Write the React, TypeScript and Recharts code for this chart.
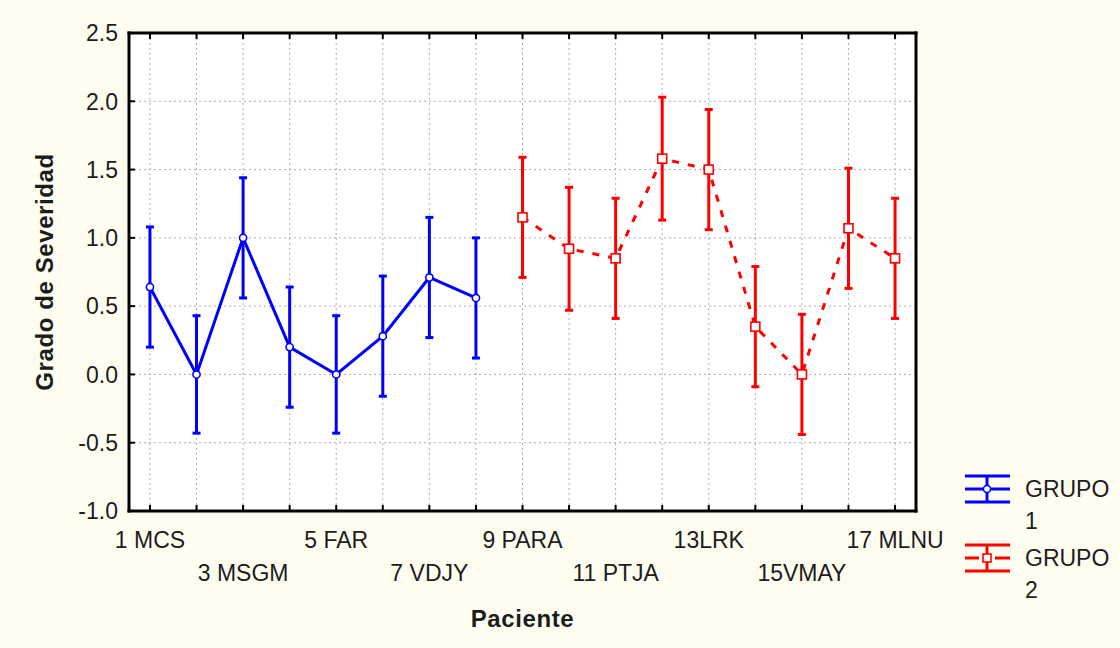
import React from 'react';
import { LineChart, Line, XAxis, YAxis, CartesianGrid, ErrorBar, Legend, Label } from 'recharts';

// ---- data ----
const patientIds = [1, 2, 3, 4, 5, 6, 7, 8, 9, 10, 11, 12, 13, 14, 15, 16, 17];
const patientLabels = ['1 MCS', '', '3 MSGM', '', '5 FAR', '', '7 VDJY', '', '9 PARA', '', '11 PTJA', '', '13LRK', '', '15VMAY', '', '17 MLNU'];
const grupo1Patients = [1, 2, 3, 4, 5, 6, 7, 8];
const grupo1Means = [0.64, 0.0, 1.0, 0.2, 0.0, 0.28, 0.71, 0.56];
const grupo1Errors = [0.44, 0.43, 0.44, 0.44, 0.43, 0.44, 0.44, 0.44];
const grupo2Patients = [9, 10, 11, 12, 13, 14, 15, 16, 17];
const grupo2Means = [1.15, 0.92, 0.85, 1.58, 1.5, 0.35, 0.0, 1.07, 0.85];
const grupo2Errors = [0.44, 0.45, 0.44, 0.45, 0.44, 0.44, 0.44, 0.44, 0.44];
const yTicks = [-1.0, -0.5, 0.0, 0.5, 1.0, 1.5, 2.0, 2.5];
const seriesNames = ['GRUPO 1', 'GRUPO 2'];
const xTitle = 'Paciente';
const yTitle = 'Grado de Severidad';

const data = patientIds.map((id) => {
  const i1 = grupo1Patients.indexOf(id);
  const i2 = grupo2Patients.indexOf(id);
  return {
    id,
    g1: i1 >= 0 ? grupo1Means[i1] : null,
    e1: i1 >= 0 ? grupo1Errors[i1] : null,
    g2: i2 >= 0 ? grupo2Means[i2] : null,
    e2: i2 >= 0 ? grupo2Errors[i2] : null,
  };
});

const BLUE = '#0000ff';
const RED = '#ff0000';
const BG = '#fffdf0';
const FONT = '"Liberation Sans", Arial, sans-serif';
const TEXT = '#1c1c1c';

const BottomTick = (props: any) => {
  const { x, y, payload } = props;
  const idx = patientIds.indexOf(payload.value);
  const label = patientLabels[idx] || '';
  const row = Math.floor(idx / 2) % 2;
  return (
    <g>
      <line x1={x} y1={y} x2={x} y2={y - 6} stroke="#000" strokeWidth={2} />
      {label ? (
        <text x={x} y={y + (row === 0 ? 37 : 70)} textAnchor="middle" fontFamily={FONT} fontSize={23} fill={TEXT}>
          {label}
        </text>
      ) : null}
    </g>
  );
};

const TopTick = (props: any) => {
  const { x, y } = props;
  return <line x1={x} y1={y} x2={x} y2={y + 6} stroke="#000" strokeWidth={2} />;
};

const LeftTick = (props: any) => {
  const { x, y, payload } = props;
  return (
    <g>
      <line x1={x} y1={y} x2={x + 6} y2={y} stroke="#000" strokeWidth={2} />
      <text x={x - 11} y={y} dy="0.36em" textAnchor="end" fontFamily={FONT} fontSize={23} fill={TEXT}>
        {Number(payload.value).toFixed(1)}
      </text>
    </g>
  );
};

const RightTick = (props: any) => {
  const { x, y } = props;
  return <line x1={x} y1={y} x2={x - 6} y2={y} stroke="#000" strokeWidth={2} />;
};

const CircleDot = (props: any) => {
  const { cx, cy, value } = props;
  if (value == null || cy == null || isNaN(cy)) return null;
  return <circle key={`c${cx}`} cx={cx} cy={cy} r={3.6} fill="#fff" stroke={BLUE} strokeWidth={1.6} />;
};

const SquareDot = (props: any) => {
  const { cx, cy, value } = props;
  if (value == null || cy == null || isNaN(cy)) return null;
  return <rect key={`s${cx}`} x={cx - 4.5} y={cy - 4.5} width={9} height={9} fill="#fff" stroke={RED} strokeWidth={1.6} />;
};

const LegendIcon = ({ color, square }: { color: string; square: boolean }) => (
  <svg width={46} height={34} style={{ display: 'block' }}>
    <line x1={0} y1={3} x2={45} y2={3} stroke={color} strokeWidth={3} />
    <line x1={0} y1={29} x2={45} y2={29} stroke={color} strokeWidth={3} />
    <line x1={22} y1={3} x2={22} y2={29} stroke={color} strokeWidth={3} />
    {square ? (
      <>
        <line x1={0} y1={16} x2={14} y2={16} stroke={color} strokeWidth={3} />
        <line x1={30} y1={16} x2={45} y2={16} stroke={color} strokeWidth={3} />
        <rect x={18} y={12} width={8} height={8} fill="#fff" stroke={color} strokeWidth={1.6} />
      </>
    ) : (
      <>
        <line x1={0} y1={16} x2={45} y2={16} stroke={color} strokeWidth={3} />
        <circle cx={22} cy={16} r={3.6} fill="#fff" stroke={color} strokeWidth={1.6} />
      </>
    )}
  </svg>
);

const LegendContent = () => (
  <div style={{ fontFamily: FONT, fontSize: 23, lineHeight: '32px', color: TEXT }}>
    {seriesNames.map((name, i) => (
      <div key={name} style={{ display: 'flex', alignItems: 'flex-start', marginBottom: 5 }}>
        <div style={{ width: 46, marginRight: 14 }}>
          <LegendIcon color={i === 0 ? BLUE : RED} square={i === 1} />
        </div>
        <div style={{ width: 95 }}>{name}</div>
      </div>
    ))}
  </div>
);

const YTitle = (props: any) => {
  const vb = props.viewBox || { x: 0, y: 0, width: 129, height: 478 };
  const cx = vb.x + 44;
  const cy = vb.y + vb.height / 2;
  return (
    <text
      x={cx}
      y={cy}
      transform={`rotate(-90 ${cx} ${cy})`}
      textAnchor="middle"
      dy="0.36em"
      fontFamily={FONT}
      fontSize={24}
      fontWeight="bold"
      letterSpacing={0.6}
      fill={TEXT}
    >
      {yTitle}
    </text>
  );
};

export default function App() {
  return (
    <div style={{ position: 'absolute', left: 0, top: 0, width: 1120, height: 648, background: BG }}>
      <LineChart width={1120} height={648} data={data} margin={{ top: 32, right: 203, bottom: 0, left: 0 }}>
        <CartesianGrid fill="#ffffff" stroke="#adadad" strokeDasharray="2 3" strokeWidth={1} />
        <XAxis
          dataKey="id"
          type="number"
          domain={[0.55, 17.45]}
          ticks={patientIds}
          interval={0}
          height={137}
          tickSize={0}
          tickMargin={0}
          tickLine={false}
          tick={<BottomTick />}
          axisLine={{ stroke: '#000', strokeWidth: 3, strokeLinecap: 'square' }}
        >
          <Label value={xTitle} position="insideBottom" offset={21} fontFamily={FONT} fontSize={24} fontWeight="bold" fill={TEXT} letterSpacing={0.6} />
        </XAxis>
        <XAxis
          xAxisId="top"
          dataKey="id"
          type="number"
          orientation="top"
          domain={[0.55, 17.45]}
          ticks={patientIds}
          interval={0}
          height={1}
          tickSize={0}
          tickMargin={0}
          tickLine={false}
          tick={<TopTick />}
          axisLine={{ stroke: '#000', strokeWidth: 3, strokeLinecap: 'square' }}
        />
        <YAxis
          type="number"
          domain={[-1, 2.5]}
          ticks={yTicks}
          interval={0}
          width={129}
          tickSize={0}
          tickMargin={0}
          tickLine={false}
          tick={<LeftTick />}
          axisLine={{ stroke: '#000', strokeWidth: 3, strokeLinecap: 'square' }}
        >
          <Label content={<YTitle />} />
        </YAxis>
        <YAxis
          yAxisId="right"
          orientation="right"
          type="number"
          domain={[-1, 2.5]}
          ticks={yTicks}
          interval={0}
          width={1}
          tickSize={0}
          tickMargin={0}
          tickLine={false}
          tick={<RightTick />}
          axisLine={{ stroke: '#000', strokeWidth: 3, strokeLinecap: 'square' }}
        />
        <Line
          dataKey="g1"
          name={seriesNames[0]}
          stroke={BLUE}
          strokeWidth={3}
          dot={<CircleDot />}
          activeDot={false}
          connectNulls={false}
          isAnimationActive={false}
        >
          <ErrorBar dataKey="e1" direction="y" width={4} stroke={BLUE} strokeWidth={3} isAnimationActive={false} />
        </Line>
        <Line
          dataKey="g2"
          name={seriesNames[1]}
          stroke={RED}
          strokeWidth={3}
          strokeDasharray="7 9"
          dot={<SquareDot />}
          activeDot={false}
          connectNulls={false}
          isAnimationActive={false}
        >
          <ErrorBar dataKey="e2" direction="y" width={4} stroke={RED} strokeWidth={3} isAnimationActive={false} />
        </Line>
        <Legend
          layout="horizontal"
          align="center"
          verticalAlign="middle"
          content={<LegendContent />}
          wrapperStyle={{ position: 'absolute', left: 965, top: 473, width: 155, height: 150 }}
        />
      </LineChart>
    </div>
  );
}
